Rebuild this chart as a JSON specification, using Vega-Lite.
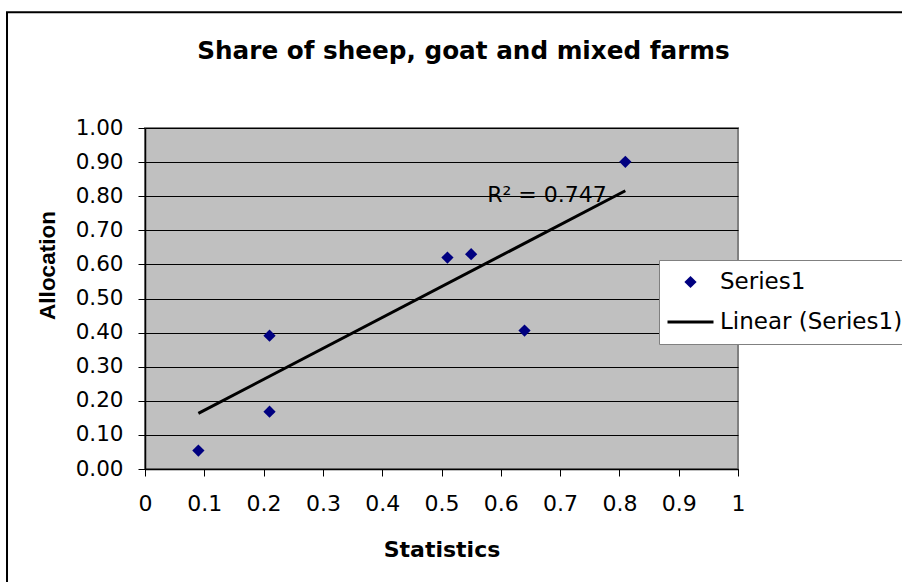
{
  "$schema": "https://vega.github.io/schema/vega-lite/v6.json",
  "width": 593,
  "height": 341,
  "autosize": {"type": "none"},
  "padding": {"left": 145, "top": 128, "right": 164, "bottom": 113},
  "background": "white",
  "title": {
    "text": "Share of sheep, goat and mixed farms",
    "font": "DejaVu Sans",
    "fontSize": 24.7,
    "fontWeight": "bold",
    "color": "black",
    "anchor": "middle",
    "frame": "group",
    "dx": 22,
    "baseline": "alphabetic",
    "offset": -73
  },
  "config": {
    "view": {"fill": "#C0C0C0", "stroke": "#808080", "strokeWidth": 2},
    "axis": {
      "domainColor": "black",
      "tickColor": "black",
      "labelColor": "black",
      "titleColor": "black",
      "gridColor": "black",
      "gridOpacity": 1,
      "tickSize": 7,
      "tickCount": 20,
      "labelFlush": false,
      "labelOverlap": false
    }
  },
  "datasets": {
    "points": [
      {"Statistics": 0.09, "Allocation": 0.054, "series": "Series1"},
      {"Statistics": 0.21, "Allocation": 0.391, "series": "Series1"},
      {"Statistics": 0.21, "Allocation": 0.168, "series": "Series1"},
      {"Statistics": 0.51, "Allocation": 0.620, "series": "Series1"},
      {"Statistics": 0.55, "Allocation": 0.630, "series": "Series1"},
      {"Statistics": 0.64, "Allocation": 0.406, "series": "Series1"},
      {"Statistics": 0.81, "Allocation": 0.901, "series": "Series1"}
    ],
    "trend": [
      {"Statistics": 0.09, "Allocation": 0.163},
      {"Statistics": 0.81, "Allocation": 0.816}
    ],
    "annotation": [
      {"Statistics": 0.577, "Allocation": 0.783, "label": "R² = 0.747"}
    ],
    "frame": [
      {"x1": -0.2327, "x2": 1.5, "y1": 1.3397, "y2": -0.5}
    ]
  },
  "layer": [
    {
      "data": {"name": "points"},
      "mark": {"type": "point", "filled": true, "opacity": 1, "size": 150, "strokeWidth": 0},
      "encoding": {
        "x": {
          "field": "Statistics",
          "type": "quantitative",
          "scale": {"domain": [0, 1], "nice": false, "zero": false},
          "axis": {
            "values": [0, 0.1, 0.2, 0.3, 0.4, 0.5, 0.6, 0.7, 0.8, 0.9, 1],
            "tickCount": 20,
            "format": "~g",
            "grid": false,
            "domainWidth": 1.5,
            "labelFont": "DejaVu Sans",
            "labelFontSize": 22,
            "labelPadding": 17,
            "title": "Statistics",
            "titleFont": "DejaVu Sans",
            "titleFontSize": 22,
            "titleFontWeight": "bold",
            "titleBaseline": "middle",
            "titleY": 80
          }
        },
        "y": {
          "field": "Allocation",
          "type": "quantitative",
          "scale": {"domain": [0, 1], "nice": false, "zero": false},
          "axis": {
            "values": [0, 0.1, 0.2, 0.3, 0.4, 0.5, 0.6, 0.7, 0.8, 0.9, 1],
            "tickCount": 20,
            "format": ".2f",
            "grid": true,
            "gridWidth": 1,
            "domainWidth": 1.5,
            "labelFont": "DejaVu Sans",
            "labelFontSize": 21.5,
            "labelPadding": 15,
            "title": "Allocation",
            "titleFont": "Liberation Sans",
            "titleFontSize": 22.5,
            "titleFontWeight": "bold",
            "titleAngle": 270,
            "titleAlign": "center",
            "titleBaseline": "middle",
            "titleX": -98,
            "titleY": 137
          }
        },
        "color": {
          "field": "series",
          "type": "nominal",
          "scale": {"domain": ["Series1", "Linear (Series1)"], "range": ["#000080", "#000000"]},
          "legend": {
            "orient": "none",
            "legendX": 514,
            "legendY": 132,
            "title": null,
            "fillColor": "white",
            "strokeColor": "#808080",
            "padding": 7,
            "rowPadding": 10,
            "clipHeight": 30,
            "symbolOffset": 0,
            "labelOffset": 5,
            "labelFont": "DejaVu Sans",
            "labelFontSize": 23,
            "labelColor": "black",
            "labelLimit": 400,
            "symbolOpacity": 1,
            "encode": {
              "symbols": {
                "update": {
                  "shape": {"signal": "datum.value === 'Series1' ? 'diamond' : 'stroke'"},
                  "size": {"signal": "datum.value === 'Series1' ? 150 : 2116"},
                  "fill": {"signal": "datum.value === 'Series1' ? '#000080' : 'transparent'"},
                  "stroke": {"signal": "datum.value === 'Series1' ? 'transparent' : 'black'"},
                  "strokeWidth": {"value": 3},
                  "opacity": {"value": 1}
                }
              }
            }
          }
        },
        "shape": {"value": "diamond"}
      }
    },
    {
      "data": {"name": "trend"},
      "mark": {"type": "line", "color": "black", "strokeWidth": 3},
      "encoding": {
        "x": {"field": "Statistics", "type": "quantitative"},
        "y": {"field": "Allocation", "type": "quantitative"}
      }
    },
    {
      "data": {"name": "annotation"},
      "mark": {"type": "text", "font": "DejaVu Sans", "fontSize": 22, "color": "black", "align": "left", "baseline": "alphabetic"},
      "encoding": {
        "x": {"field": "Statistics", "type": "quantitative"},
        "y": {"field": "Allocation", "type": "quantitative"},
        "text": {"field": "label"}
      }
    },
    {
      "data": {"name": "frame"},
      "mark": {"type": "rect", "fill": null, "fillOpacity": 0, "stroke": "black", "strokeWidth": 2, "clip": false},
      "encoding": {
        "x": {"field": "x1", "type": "quantitative"},
        "x2": {"field": "x2"},
        "y": {"field": "y1", "type": "quantitative"},
        "y2": {"field": "y2"}
      }
    }
  ]
}
